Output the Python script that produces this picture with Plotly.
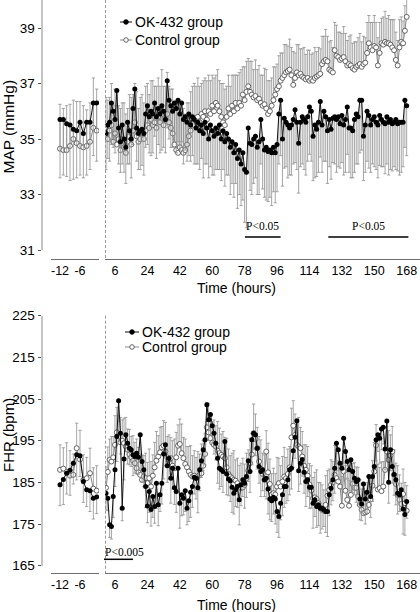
import plotly.graph_objects as go

# ---------------- DATA ----------------
hours_pre = [-12, -11, -10, -9, -8, -7, -6, -5, -4, -3, -2, -1]
hours_main = list(range(1, 169))

# MAP (mmHg)
map_ok_pre = [35.7, 35.7, 35.55, 35.5, 35.35, 35.3, 35.6, 35.2, 35.6, 35.6, 36.3, 36.3]
map_ct_pre = [34.65, 34.6, 34.6, 34.75, 35.0, 34.85, 34.75, 34.7, 34.75, 34.9, 35.4, 35.3]
map_ok_pre_err = [2.1, 2.0, 1.9, 2.0, 1.8, 1.7, 1.9, 1.6, 1.9, 1.7, 1.9, 2.1]
map_ct_pre_err = [1.6, 1.5, 1.6, 1.5, 1.4, 1.5, 1.6, 1.5, 1.3, 1.4, 1.8, 1.5]

map_ok = [35.2, 35.5, 35.6, 36.3, 36.0, 35.7, 36.75, 35.4, 34.9, 35.5,
          35.0, 34.7, 35.6, 35.3, 35.0, 36.1, 36.8, 35.4, 35.2, 35.3,
          35.35, 35.2, 35.9, 36.2, 35.8, 36.0, 35.9, 36.3, 35.8, 36.1,
          35.9, 36.2, 36.0, 35.7, 37.1, 36.4, 36.2, 36.0, 36.3, 36.1,
          36.4, 35.9, 36.3, 35.7, 35.8, 35.6, 35.9, 35.5, 35.8, 35.7,
          35.4, 35.6, 35.3, 35.5, 35.2, 35.6, 35.4, 35.0, 35.5, 35.3,
          35.1, 35.4, 35.2, 35.5, 35.0, 35.3, 34.9, 35.2, 35.0, 34.7,
          34.9, 34.5, 34.8, 34.3, 34.6, 34.1, 34.5, 33.9, 33.8, 35.4,
          34.85, 34.8, 35.0, 35.1, 34.7, 34.9, 35.7, 35.0, 34.6, 34.7,
          34.55, 34.6, 34.5, 34.7, 34.5, 34.8, 35.9, 36.4, 35.0, 35.75,
          35.6, 35.5, 35.4, 35.5, 35.7, 36.05, 35.6, 34.85, 35.6, 35.8,
          35.7, 35.6, 35.8, 36.15, 36.0, 35.1, 35.5, 35.35, 35.6, 36.35,
          35.5, 36.0, 35.8, 35.3, 35.7, 35.35, 35.75, 35.8, 35.7, 35.8,
          35.55, 35.85, 35.5, 35.7, 36.15, 35.4, 35.4, 35.3, 35.7, 35.9,
          35.8, 36.4, 36.4, 35.1, 35.5, 36.0, 35.85, 35.5, 35.7, 35.8,
          35.6, 35.5, 35.85, 35.7, 35.6, 35.55, 35.8, 35.6, 35.7, 35.55,
          35.6, 35.7, 35.55, 35.6, 35.6, 35.6, 36.4, 36.2]
map_ct = [35.4, 35.0, 35.3, 35.5, 34.9, 35.2, 34.8, 35.0, 34.6, 35.0,
          34.7, 34.5, 34.9, 35.1, 34.8, 35.3, 35.6, 35.1, 34.9, 35.0,
          35.2, 35.0, 35.3, 35.5, 35.4, 35.7, 35.5, 35.6, 35.4, 35.8,
          35.6, 35.9, 35.5, 35.7, 35.9, 35.6, 35.4, 35.2, 34.8, 34.6,
          34.5, 34.7, 34.6, 34.5, 34.6, 34.8, 35.1, 35.3, 35.6, 35.5,
          35.7, 35.8, 35.6, 35.9, 35.8, 36.0, 35.7, 36.0, 35.9, 36.2,
          36.0, 36.3, 36.2, 36.0, 35.8, 35.6, 35.5, 35.8, 36.1, 35.9,
          36.2, 36.0, 36.3, 36.1, 36.3, 36.2, 36.6, 36.4, 36.7, 36.9,
          36.7, 36.6, 36.5, 36.55, 36.4, 36.45, 36.3, 36.2, 36.25, 36.1,
          35.9, 36.0, 36.2, 36.4, 36.6, 36.8, 36.9, 37.1, 37.2, 37.3,
          37.4, 37.45, 37.5, 37.3, 36.95, 37.2, 37.4, 37.3, 37.35, 37.25,
          37.2, 37.15, 37.2, 37.1, 37.15, 37.1, 37.2, 37.25, 37.3, 37.35,
          37.7, 37.8, 37.85, 37.8, 37.5, 37.45, 37.4, 38.2, 38.0, 37.95,
          37.85, 37.9, 37.95, 37.8, 37.65, 37.7, 37.65, 37.55, 37.5, 37.6,
          37.65, 37.7, 37.6, 37.7, 37.75, 38.1, 38.45, 38.3, 38.2, 38.35,
          38.3, 37.65, 38.1, 38.45, 38.4, 38.5, 38.45, 38.45, 38.4, 38.3,
          38.2, 37.85, 37.65, 38.3, 38.5, 38.45, 38.9, 39.4]
map_ok_err = [1.3, 1.2, 1.4, 1.5, 1.3, 1.2, 1.6, 1.3, 1.1, 1.4, 1.2, 1.3, 1.5, 1.2, 1.4, 1.3, 1.6, 1.2, 1.3, 1.4,
              1.3, 1.5, 1.2, 1.4, 1.3, 1.6, 1.4, 1.2, 1.5, 1.3, 1.4, 1.6, 1.3, 1.2, 1.7, 1.4, 1.5, 1.3, 1.4, 1.6,
              1.5, 1.3, 1.4, 1.6, 1.2, 1.4, 1.5, 1.3, 1.4, 1.6, 1.3, 1.5, 1.4, 1.2, 1.6, 1.5, 1.3, 1.4, 1.5, 1.6,
              1.4, 1.5, 1.3, 1.6, 1.5, 1.4, 1.6, 1.5, 1.3, 1.7, 1.5, 1.6, 1.4, 1.8, 1.6, 1.5, 1.7, 1.9, 2.0, 1.6,
              1.7, 1.8, 1.6, 1.5, 1.7, 1.9, 1.6, 1.8, 1.7, 1.9, 1.8, 1.7, 1.9, 1.6, 1.8, 1.7, 1.8, 2.0, 1.7, 1.8,
              1.6, 1.9, 1.7, 1.8, 1.6, 1.9, 1.7, 1.8, 1.6, 1.7, 1.8, 1.9, 1.6, 1.7, 1.8, 1.6, 1.9, 1.7, 1.8, 2.0,
              1.7, 1.8, 1.6, 1.9, 1.7, 1.8, 1.6, 1.7, 1.9, 1.8, 1.6, 1.7, 1.8, 1.9, 1.7, 1.6, 1.8, 1.7, 1.9, 1.8,
              1.7, 1.9, 1.8, 1.6, 1.7, 1.8, 1.9, 1.7, 1.6, 1.8, 1.7, 1.9, 1.8, 1.7, 1.6, 1.8, 1.7, 1.9, 1.8, 1.7,
              1.6, 1.8, 1.7, 1.9, 1.8, 1.6, 1.7, 1.8]
map_ct_err = [1.1, 1.4, 1.2, 1.5, 1.3, 1.6, 1.4, 1.2, 1.5, 1.3, 1.6, 1.4, 1.2, 1.5, 1.7, 1.3, 1.4, 1.6, 1.2, 1.5,
              1.4, 1.3, 1.6, 1.5, 1.2, 1.4, 1.6, 1.3, 1.5, 1.4, 1.3, 1.6, 1.4, 1.2, 1.5, 1.3, 1.4, 1.6, 1.5, 1.7,
              1.6, 1.5, 1.4, 1.6, 1.3, 1.5, 1.2, 1.4, 1.3, 1.5, 1.2, 1.4, 1.3, 1.1, 1.3, 1.2, 1.4, 1.3, 1.2, 1.1,
              1.2, 1.0, 1.3, 1.1, 1.2, 1.4, 1.3, 1.1, 1.2, 1.0, 1.1, 1.3, 1.0, 1.2, 1.1, 1.3, 1.0, 1.2, 1.1, 1.0,
              1.1, 1.2, 1.0, 1.3, 1.1, 1.2, 1.0, 1.1, 1.3, 1.4, 1.2, 1.1, 1.0, 1.2, 1.0, 0.9, 1.1, 1.0, 0.9, 1.1,
              1.0, 0.9, 1.1, 1.0, 1.2, 0.9, 1.0, 1.1, 0.9, 1.0, 1.1, 0.9, 1.0, 1.1, 0.9, 1.0, 1.1, 0.9, 1.0, 0.9,
              1.0, 0.9, 1.1, 0.9, 1.0, 1.1, 0.9, 1.0, 1.1, 0.9, 1.0, 0.9, 1.1, 1.0, 0.9, 1.0, 1.1, 0.9, 1.0, 0.9,
              1.0, 1.1, 0.9, 1.0, 0.9, 1.1, 1.0, 0.9, 1.0, 1.1, 0.9, 1.0, 1.1, 0.9, 1.0, 1.1, 0.9, 1.0, 0.9, 1.0,
              1.1, 1.0, 0.9, 1.0, 0.9, 0.8, 0.9, 0.8]

# FHR (bpm)
fhr_ok_pre = [184.4, 185.7, 187.2, 187.9, 189.6, 191.6, 191.4, 185.2, 183.2, 183.0, 181.2, 181.5]
fhr_ct_pre = [188.0, 188.3, 187.5, 186.6, 186.8, 193.2, 190.5, 185.6, 186.0, 187.2, 183.5, 183.0]
fhr_ok_pre_err = [5, 6, 5, 6, 5, 6, 5, 5, 4, 5, 5, 4]
fhr_ct_pre_err = [6, 5, 7, 6, 5, 6, 7, 6, 5, 6, 5, 6]

fhr_ok = [182.4, 181.2, 174.8, 174.4, 181.6, 188.0, 196.0, 204.6, 196.8, 178.8,
          190.6, 196.4, 194.4, 193.2, 192.8, 191.6, 191.2, 192.0, 191.0, 196.4,
          190.0, 188.0, 184.0, 179.3, 182.8, 178.5, 181.6, 179.2, 184.8, 179.6,
          182.0, 184.8, 191.8, 194.0, 189.0, 190.8, 186.0, 188.4, 183.7, 182.8,
          188.4, 180.0, 182.0, 181.2, 183.0, 178.8, 180.6, 182.6, 184.0, 186.2,
          186.0, 183.7, 188.0, 190.2, 192.8, 195.2, 203.6, 200.0, 201.3, 198.6,
          196.8, 194.4, 190.8, 188.4, 188.0, 187.6, 194.8, 187.0, 185.8, 185.4,
          183.8, 182.4, 183.2, 184.0, 180.8, 184.4, 185.6, 184.8, 186.4, 190.2,
          187.6, 195.2, 196.8, 196.4, 193.2, 188.8, 187.6, 188.0, 185.6, 186.0,
          183.4, 181.0, 180.6, 181.4, 181.0, 178.0, 176.8, 180.0, 182.0, 184.0,
          184.0, 185.6, 188.0, 188.4, 192.6, 195.8, 199.8, 187.8, 189.6, 190.5,
          187.4, 185.2, 185.6, 183.8, 183.8, 180.0, 180.8, 179.2, 179.6, 178.8,
          178.8, 178.4, 178.0, 178.0, 182.0, 183.6, 185.6, 188.4, 194.4, 192.8,
          189.6, 188.4, 195.6, 192.4, 190.0, 188.0, 190.4, 187.6, 186.0, 185.2,
          185.6, 181.0, 179.8, 184.6, 181.0, 182.6, 186.4, 181.6, 186.4, 188.8,
          195.2, 196.4, 195.6, 197.8, 198.2, 193.0, 199.7, 185.0, 192.8, 188.8,
          186.9, 185.6, 182.4, 182.0, 183.2, 178.6, 177.3, 180.4]
fhr_ct = [183.7, 187.5, 190.4, 190.0, 191.0, 194.0, 197.0, 196.0, 194.6, 195.0,
          194.4, 193.6, 192.8, 191.7, 191.0, 190.2, 189.6, 188.4, 187.4, 186.8,
          185.6, 186.4, 186.0, 184.8, 186.0, 184.0, 186.6, 188.6, 190.2, 191.2,
          192.2, 193.4, 193.8, 192.4, 191.0, 190.4, 190.8, 189.0, 188.4, 191.0,
          193.8, 194.2, 192.0, 190.8, 189.4, 188.6, 187.6, 186.8, 186.4, 186.6,
          186.0, 186.4, 186.8, 187.2, 189.0, 191.8, 198.2, 197.0, 195.6, 194.5,
          194.0, 193.6, 192.6, 192.0, 191.6, 191.2, 190.8, 188.6, 187.0, 186.4,
          186.0, 185.6, 185.4, 184.8, 184.1, 183.6, 183.8, 184.4, 186.0, 187.8,
          189.6, 191.7, 196.8, 195.4, 193.2, 190.0, 188.2, 187.0, 185.6, 192.4,
          187.4, 184.6, 182.1, 182.4, 182.1, 184.0, 184.8, 184.0, 185.2, 186.4,
          186.0, 187.0, 188.6, 195.8, 198.6, 196.4, 194.0, 193.6, 193.2, 191.2,
          189.0, 188.0, 186.6, 184.5, 183.0, 181.2, 181.4, 181.0, 180.0, 178.9,
          178.4, 178.2, 179.6, 181.8, 183.2, 184.4, 185.0, 186.8, 186.0, 185.2,
          184.0, 179.4, 187.6, 183.0, 180.8, 179.4, 182.0, 184.6, 183.7, 183.7,
          181.6, 179.6, 178.4, 177.6, 177.8, 178.0, 179.6, 180.9, 184.2, 187.6,
          193.9, 183.3, 183.6, 182.9, 184.0, 188.0, 192.4, 190.4, 191.4, 192.4,
          186.8, 184.6, 182.0, 180.8, 179.8, 182.2, 180.0, 178.2]
fhr_ok_err = [4, 3, 3, 3, 5, 4, 6, 5, 5, 3, 5, 4, 5, 4, 4, 5, 4, 5, 4, 6,
              5, 4, 5, 4, 5, 4, 5, 4, 6, 5, 4, 5, 6, 5, 4, 5, 6, 5, 4, 5,
              5, 6, 5, 4, 5, 4, 5, 6, 5, 4, 5, 6, 5, 4, 5, 6, 4, 5, 5, 4,
              5, 4, 6, 5, 4, 5, 6, 5, 4, 5, 6, 5, 4, 5, 6, 5, 4, 6, 5, 5,
              5, 6, 4, 5, 5, 4, 6, 5, 4, 5, 6, 5, 5, 4, 6, 5, 5, 4, 5, 5,
              4, 5, 6, 5, 4, 5, 6, 5, 5, 4, 5, 6, 4, 5, 5, 6, 4, 5, 5, 6,
              5, 4, 5, 6, 5, 4, 5, 6, 5, 5, 4, 5, 6, 5, 4, 5, 6, 5, 4, 5,
              6, 5, 4, 5, 6, 5, 4, 5, 6, 5, 5, 4, 6, 5, 4, 5, 6, 5, 5, 4,
              5, 6, 5, 4, 5, 6, 5, 4]
fhr_ct_err = [5, 6, 5, 6, 5, 7, 6, 5, 6, 5, 6, 7, 5, 6, 5, 6, 5, 7, 6, 5,
              6, 5, 6, 5, 7, 6, 5, 6, 7, 5, 6, 5, 6, 7, 5, 6, 5, 6, 7, 6,
              5, 6, 7, 5, 6, 5, 6, 7, 5, 6, 5, 6, 5, 7, 6, 5, 6, 7, 6, 5,
              6, 5, 7, 6, 5, 6, 5, 7, 6, 5, 6, 7, 5, 6, 5, 6, 7, 5, 6, 5,
              6, 5, 7, 6, 5, 6, 7, 5, 6, 5, 7, 6, 5, 6, 5, 7, 6, 5, 6, 7,
              5, 6, 5, 7, 6, 5, 6, 7, 5, 6, 5, 6, 7, 5, 6, 5, 6, 7, 5, 6,
              6, 5, 7, 6, 5, 6, 5, 7, 6, 5, 6, 7, 5, 6, 5, 6, 7, 5, 6, 5,
              7, 6, 5, 6, 5, 7, 6, 5, 6, 7, 5, 6, 5, 7, 6, 5, 6, 7, 5, 6,
              6, 5, 7, 6, 5, 6, 5, 6]

x_ticks_pre = [-12, -6]
x_ticks_main = [6, 24, 42, 60, 78, 96, 114, 132, 150, 168]
map_ticks = [31, 33, 35, 37, 39]
fhr_ticks = [165, 175, 185, 195, 205, 215, 225]

series_names = ["OK-432 group", "Control group"]
sig_map = [("P<0.05", 78.2, 98.0), ("P<0.05", 124.5, 169.0)]
sig_fhr = [("P<0.005", 0.0, 16.0)]

for arr in (map_ok, map_ct, map_ok_err, map_ct_err, fhr_ok, fhr_ct, fhr_ok_err, fhr_ct_err):
    assert len(arr) == 168, len(arr)

# ---------------- LAYOUT HELPERS ----------------
W, H = 420, 612
def PX(px):
    return px / W
def PY(py):
    return 1 - py / H

FONT = "Liberation Sans, Arial, sans-serif"
SERIF = "Liberation Serif, Times New Roman, serif"

TOP_Y0, TOP_Y1 = 250.0, 0.0
TOP_XAX = 259.0
TOP_RANGE = [31, 31 + 250 / 27.75]
BOT_Y0, BOT_Y1 = 565.7, 315.7
BOT_XAX = 573.0
BOT_RANGE = [165, 225]

PRE_DOM = [PX(51), PX(99)]
MAIN_DOM = [PX(105), PX(420)]
PRE_RANGE = [-14.7, -0.3]
MAIN_RANGE = [0.44, 175.4]

ERR_COLOR = "#8f8f8f"

fig = go.Figure()

def add_series(x, y, err, xa, ya, filled):
    zeros = [0] * len(err)
    if filled:
        fig.add_trace(go.Scatter(
            x=x, y=y, xaxis=xa, yaxis=ya, mode="lines+markers", showlegend=False,
            line=dict(color="#111111", width=1),
            marker=dict(symbol="circle", size=5, color="#000000", line=dict(width=0)),
            error_y=dict(type="data", symmetric=False, array=zeros, arrayminus=err,
                         color=ERR_COLOR, thickness=0.8, width=1.6)))
    else:
        fig.add_trace(go.Scatter(
            x=x, y=y, xaxis=xa, yaxis=ya, mode="lines+markers", showlegend=False,
            line=dict(color="#8a8a8a", width=1),
            marker=dict(symbol="circle", size=5, color="#ffffff",
                        line=dict(width=0.9, color="#555555")),
            error_y=dict(type="data", symmetric=False, array=err, arrayminus=zeros,
                         color=ERR_COLOR, thickness=0.8, width=1.6)))

add_series(hours_pre, map_ct_pre, map_ct_pre_err, "x", "y", False)
add_series(hours_pre, map_ok_pre, map_ok_pre_err, "x", "y", True)
add_series(hours_main, map_ct, map_ct_err, "x2", "y", False)
add_series(hours_main, map_ok, map_ok_err, "x2", "y", True)
add_series(hours_pre, fhr_ct_pre, fhr_ct_pre_err, "x3", "y2", False)
add_series(hours_pre, fhr_ok_pre, fhr_ok_pre_err, "x3", "y2", True)
add_series(hours_main, fhr_ct, fhr_ct_err, "x4", "y2", False)
add_series(hours_main, fhr_ok, fhr_ok_err, "x4", "y2", True)

def xaxis_cfg(dom, rng, ticks, pos):
    return dict(domain=dom, range=rng, anchor="free", position=pos,
                tickvals=ticks, ticktext=[str(t) for t in ticks],
                showgrid=False, zeroline=False, showline=True, linecolor="#6e6e6e",
                linewidth=1, ticks="", automargin=False,
                tickfont=dict(family=FONT, size=12.5, color="#000"))

def yaxis_cfg(dom, rng, ticks):
    return dict(domain=dom, range=rng, anchor="free", position=PX(41.5),
                tickvals=ticks, showgrid=False, zeroline=False,
                showline=True, linecolor="#c4c4c4", linewidth=2,
                ticks="outside", ticklen=3, tickcolor="#555555", tickwidth=1,
                automargin=False, tickfont=dict(family=FONT, size=13.5, color="#000"))

fig.update_layout(
    width=W, height=H, margin=dict(l=0, r=0, t=0, b=0),
    paper_bgcolor="white", plot_bgcolor="white", showlegend=False,
    xaxis=xaxis_cfg(PRE_DOM, PRE_RANGE, x_ticks_pre, PY(TOP_XAX)),
    xaxis2=xaxis_cfg(MAIN_DOM, MAIN_RANGE, x_ticks_main, PY(TOP_XAX)),
    xaxis3=xaxis_cfg(PRE_DOM, PRE_RANGE, x_ticks_pre, PY(BOT_XAX)),
    xaxis4=xaxis_cfg(MAIN_DOM, MAIN_RANGE, x_ticks_main, PY(BOT_XAX)),
    yaxis=yaxis_cfg([PY(TOP_Y0), PY(TOP_Y1)], TOP_RANGE, map_ticks),
    yaxis2=yaxis_cfg([PY(BOT_Y0), PY(BOT_Y1)], BOT_RANGE, fhr_ticks),
)

shapes = []
annotations = []

for (y0, y1) in [(0, TOP_XAX), (BOT_Y1, BOT_XAX)]:
    shapes.append(dict(type="line", xref="paper", yref="paper", x0=PX(105.5), x1=PX(105.5),
                       y0=PY(y0), y1=PY(y1), line=dict(color="#9a9a9a", width=1, dash="3px,2px")))

def text(t, x, y, size, family=FONT, angle=0, xanchor="center"):
    annotations.append(dict(text=t, xref="paper", yref="paper", x=PX(x), y=PY(y),
                            xanchor=xanchor, yanchor="middle", textangle=angle,
                            showarrow=False, font=dict(family=family, size=size, color="#000")))

text("Time (hours)", 236, 288, 14)
text("Time (hours)", 236, 605, 14)
text("MAP (mmHg)", 8, 126.5, 15.5, angle=-90)
text("FHR (bpm)", 8, 435, 15, angle=-90)

def hpx(h):
    return 104.2 + 1.8 * h
for label, h0, h1 in sig_map:
    shapes.append(dict(type="line", xref="paper", yref="paper", x0=PX(hpx(h0)), x1=PX(hpx(h1)),
                       y0=PY(237), y1=PY(237), line=dict(color="#000", width=1.5)))
    text(label, (hpx(h0) + hpx(h1)) / 2, 226, 11.5, family=SERIF)
for label, h0, h1 in sig_fhr:
    shapes.append(dict(type="line", xref="paper", yref="paper", x0=PX(104), x1=PX(hpx(h1)),
                       y0=PY(559.3), y1=PY(559.3), line=dict(color="#000", width=1.5)))
    text(label, 103, 552, 11.5, family=SERIF, xanchor="left")

def legend(x0, x1, ys):
    cx = (x0 + x1) / 2
    for i, (name, yy) in enumerate(zip(series_names, ys)):
        filled = i == 0
        shapes.append(dict(type="line", xref="paper", yref="paper", x0=PX(x0), x1=PX(x1),
                           y0=PY(yy), y1=PY(yy),
                           line=dict(color="#111" if filled else "#8a8a8a", width=1)))
        r = 2.3
        shapes.append(dict(type="circle", xref="paper", yref="paper",
                           x0=PX(cx - r), x1=PX(cx + r), y0=PY(yy + r), y1=PY(yy - r),
                           fillcolor="#000" if filled else "#fff",
                           line=dict(color="#000" if filled else "#555", width=0.9)))
        text(name, x1 + 1, yy, 14, xanchor="left")
legend(120, 132, [22, 40])
legend(125, 139, [332, 347])

fig.update_layout(shapes=shapes, annotations=annotations)
fig.write_html("out.html", config={"displayModeBar": False},
               post_script="document.body.style.margin='0';document.body.style.overflow='hidden';")
